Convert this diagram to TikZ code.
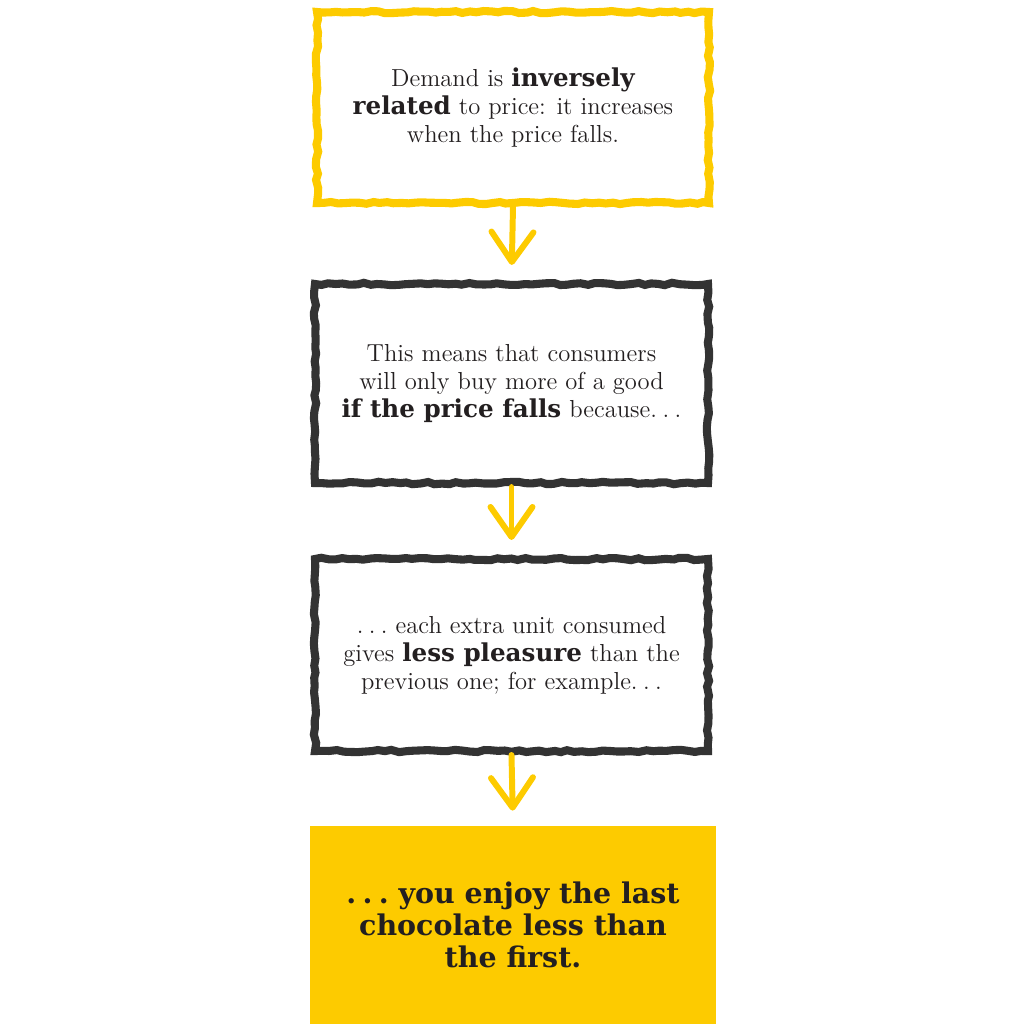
\documentclass[tikz,border=0pt]{standalone}
\usepackage{fontspec}
\usepackage{tikz}
\usetikzlibrary{arrows.meta, decorations.pathmorphing, positioning}
\newfontfamily\slabfont{DejaVu Serif}
\definecolor{chalkyellow}{HTML}{FDCB00}
\definecolor{chalkblack}{HTML}{333333}
\definecolor{inkgray}{HTML}{231F20}
\newcommand{\hl}[1]{{\slabfont\bfseries #1}}
\newcommand{\dts}{.\kern0.22em.\kern0.22em.}
\tikzset{
  chalkbox/.style={rectangle, line width=4.6pt, text=inkgray, align=center,
    font=\fontsize{14}{16}\selectfont,
    decorate, decoration={random steps, segment length=4pt, amplitude=0.7pt}},
  yellowbox/.style={chalkbox, draw=chalkyellow},
  blackbox/.style={chalkbox, draw=chalkblack},
  finalbox/.style={rectangle, fill=chalkyellow, text=inkgray, align=center,
    font=\fontsize{16.2}{18.2}\selectfont\slabfont\bfseries},
  downarrow/.style={draw=chalkyellow, line width=3.4pt, line cap=round,
    -{Straight Barb[length=0.6cm, width=0.84cm, round]}, shorten >=0.3cm}
}
\begin{document}
\begin{tikzpicture}
        \useasboundingbox (0,0) rectangle (20.48,20.48);
        % Boxes
        \node[yellowbox, minimum width=7.84cm, minimum height=3.82cm] (demand) at (10.26, 18.33)
          {Demand is \hl{inversely}\\ \hl{related} to price: it increases\\ when the price falls.};
        \node[blackbox, minimum width=7.86cm, minimum height=3.98cm] (means) at (10.23, 12.81)
          {This means that consumers\\ will only buy more of a good\\ \hl{if the price falls} because\dts};
        \node[blackbox, minimum width=7.86cm, minimum height=3.84cm] (unit) at (10.23, 7.38)
          {\dts\ each extra unit consumed\\ gives \hl{less pleasure} than the\\ previous one; for example\dts};
        \node[finalbox, minimum width=8.12cm, minimum height=3.96cm] (choc) at (10.26, 1.98)
          {\dts\ you enjoy the last\\ chocolate less than\\ the first.};

        % Arrows
        \draw[downarrow] (demand.south) -- (means.north);
        \draw[downarrow] (means.south) -- (unit.north);
        \draw[downarrow] (unit.south) -- (choc.north);
\end{tikzpicture}
\end{document}
